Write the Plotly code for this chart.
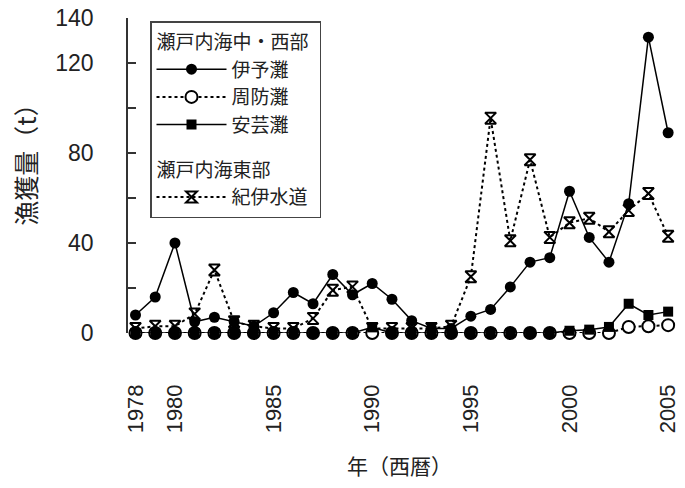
import plotly.graph_objects as go

years = list(range(1978, 2006))

iyo = [8, 16, 40, 5, 7, 5, 3, 9, 18, 13, 26, 17, 22, 15, 5.5, 2, 2, 7.5, 10.5, 20.5, 31.5, 33.5, 63, 42.5, 31.5, 57.5, 131.5, 89]
suo = [0, 0, 0, 0, 0, 0, 0, 0, 0, 0, 0, 0, 0, 0, 0, 0, 0, 0, 0, 0, 0, 0, 0, 0, 0, 2.7, 3, 3.5]
aki = [0, 0, 0, 0, 0, 0, 0, 0, 0, 0, 0, 0, 2.5, 0, 0, 0, 0, 0, 0, 0, 0, 0, 1, 1.5, 2.7, 13, 8, 9.5]
kii = [2, 3, 3, 8.5, 28, 5, 3, 2, 2, 6.5, 19, 20.5, 2, 2, 2, 2, 3, 25, 95.5, 41, 77, 42.5, 49, 51, 45, 54.5, 62, 43]

group1 = "瀬戸内海中・西部"
group2 = "瀬戸内海東部"

y_tickvals = [0, 20, 40, 60, 80, 100, 120, 140]
y_ticktext = ["0", "", "40", "", "80", "", "120", "140"]
x_tickvals = [1978, 1980, 1985, 1990, 1995, 2000, 2005]
x_ticktext = ["1978", "1980", "1985", "1990", "1995", "2000", "2005"]

JP = "Noto Sans CJK JP"
NUM = "Liberation Sans, Arial, sans-serif"

fig = go.Figure()

fig.add_trace(go.Scatter(
    x=years, y=kii, name="紀伊水道", legendgroup="g2", legendgrouptitle_text=group2,
    legendrank=4, mode="lines+markers", cliponaxis=False,
    line=dict(color="black", width=2, dash="dot"),
    marker=dict(symbol="hourglass-open", size=11, color="black", line=dict(width=2, color="black")),
))
fig.add_trace(go.Scatter(
    x=years, y=suo, name="周防灘", legendgroup="g1", legendgrouptitle_text=group1,
    legendrank=2, mode="lines+markers", cliponaxis=False,
    line=dict(color="black", width=2, dash="dot"),
    marker=dict(symbol="circle", size=12, color="white", line=dict(width=2, color="black")),
))
fig.add_trace(go.Scatter(
    x=years, y=aki, name="安芸灘", legendgroup="g1", legendgrouptitle_text=group1,
    legendrank=3, mode="lines+markers", cliponaxis=False,
    line=dict(color="black", width=1.5),
    marker=dict(symbol="square", size=10, color="black"),
))
fig.add_trace(go.Scatter(
    x=years, y=iyo, name="伊予灘", legendgroup="g1", legendgrouptitle_text=group1,
    legendrank=1, mode="lines+markers", cliponaxis=False,
    line=dict(color="black", width=1.5),
    marker=dict(symbol="circle", size=11, color="black"),
))

fig.update_layout(
    width=685, height=488,
    margin=dict(l=128, r=5, t=17, b=155),
    paper_bgcolor="white", plot_bgcolor="white",
    font=dict(family=JP, color="#222"),
    showlegend=True,
    legend=dict(
        x=0.04, y=0.99, xanchor="left", yanchor="top",
        bordercolor="#444", borderwidth=1.5, bgcolor="white",
        font=dict(family=JP, size=19, color="#222"),
        grouptitlefont=dict(family=JP, size=19, color="#222"),
        traceorder="grouped", tracegroupgap=17, itemwidth=70,
    ),
    xaxis=dict(
        range=[1977.62, 2005.5], showgrid=False, zeroline=False, showline=False,
        tickmode="array", tickvals=x_tickvals, ticktext=x_ticktext, ticks="",
        tickangle=-90, tickfont=dict(family=NUM, size=22, color="#222"),
        ticklabelstandoff=46,
    ),
    yaxis=dict(
        range=[0, 140], showgrid=False, zeroline=False, showline=True,
        linecolor="#333", linewidth=1.5,
        tickmode="array", tickvals=y_tickvals, ticktext=y_ticktext,
        ticks="inside", ticklen=8, tickwidth=1.5, tickcolor="#333",
        tickfont=dict(family=NUM, size=23, color="#222"),
        ticklabelstandoff=28,
    ),
    annotations=[
        dict(text="漁獲量（t）", xref="paper", yref="paper", x=-0.187, y=0.554,
             textangle=-90, showarrow=False, xanchor="center", yanchor="middle",
             font=dict(family=JP, size=25, color="#222")),
        dict(text="年（西暦）", xref="paper", yref="paper", x=0.493, y=-0.418,
             showarrow=False, xanchor="center", yanchor="middle",
             font=dict(family=JP, size=21, color="#222")),
    ],
)

fig.write_html("out.html")
